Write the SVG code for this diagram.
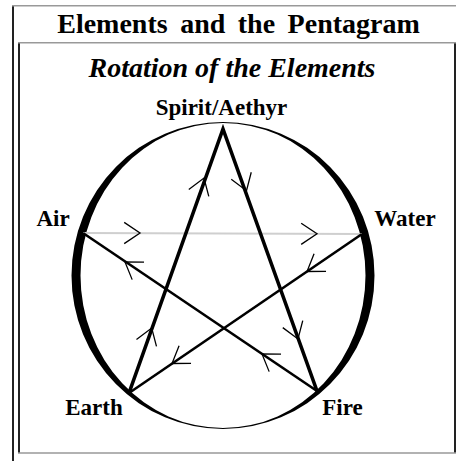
<svg xmlns="http://www.w3.org/2000/svg" width="456" height="461" viewBox="0 0 456 461">
<style>
.t{font-family:"Liberation Serif","Times New Roman",serif;font-weight:bold;fill:#000;text-anchor:middle}
.lbl{font-size:23px}
.thick{stroke:#000;stroke-width:3.6;fill:none;stroke-linejoin:miter;stroke-miterlimit:10}
.mid{stroke:#000;stroke-width:2.6;fill:none}
.gray{stroke:#cfcfcf;stroke-width:2;fill:none}
.chev{stroke:#000;stroke-width:1.3;fill:none}
.hl{stroke:#999;stroke-width:1.5}
.vl{stroke:#222;stroke-width:2}
</style>
<defs>
<path id="chev" class="chev" d="M-15.8,-10.6 L0,0 L-15.8,10.6"/>
</defs>
<g id="frame">
<line class="vl" x1="13" y1="5" x2="13" y2="461"/>
<line class="hl" x1="12" y1="5.8" x2="456" y2="5.8"/>
<line class="vl" x1="19" y1="42" x2="19" y2="453"/>
<line class="vl" x1="455" y1="42" x2="455" y2="453"/>
<line class="hl" x1="18" y1="42.8" x2="456" y2="42.8"/>
<line class="hl" x1="18" y1="453" x2="456" y2="453"/>
</g>
<text id="title" class="t" x="238.5" y="33" font-size="28" word-spacing="5.5">Elements and the Pentagram</text>
<text id="subtitle" class="t" x="232" y="77" font-size="28" font-style="italic">Rotation of the Elements</text>
<g id="circle">
<path fill="#000" fill-rule="evenodd" d="M71.5,275.5 a151.5,153.5 0 1,0 303,0 a151.5,153.5 0 1,0 -303,0 Z M80.5,275.5 a142.5,152.5 0 1,0 285,0 a142.5,152.5 0 1,0 -285,0 Z"/>
</g>
<g id="connectors">
<line class="gray" x1="83" y1="233" x2="362" y2="234"/>
<line class="mid" x1="83" y1="233" x2="317" y2="391"/>
<line class="mid" x1="362" y1="234" x2="129" y2="393"/>
<path class="thick" d="M129,393 L223,129 L317,391"/>
<use href="#chev" transform="translate(140,233)"/>
<use href="#chev" transform="translate(317,233.8)"/>
<use href="#chev" transform="translate(307,271.5) rotate(145.7)"/>
<use href="#chev" transform="translate(172,363.5) rotate(145.7)"/>
<use href="#chev" transform="translate(151.7,328) rotate(-70.7)"/>
<use href="#chev" transform="translate(204,178) rotate(-70.7)"/>
<use href="#chev" transform="translate(246.5,190.7) rotate(70.6)"/>
<use href="#chev" transform="translate(298,339) rotate(70.6)"/>
<use href="#chev" transform="translate(262,354) rotate(-146)"/>
<use href="#chev" transform="translate(125,262) rotate(-146)"/>
</g>
<g id="spirit"><text class="t lbl" x="221.5" y="115" font-size="24">Spirit/Aethyr</text></g>
<g id="air"><text class="t lbl" x="53" y="226">Air</text></g>
<g id="water"><text class="t lbl" x="405" y="226">Water</text></g>
<g id="earth"><text class="t lbl" x="94" y="415">Earth</text></g>
<g id="fire"><text class="t lbl" x="342.5" y="415">Fire</text></g>
</svg>
